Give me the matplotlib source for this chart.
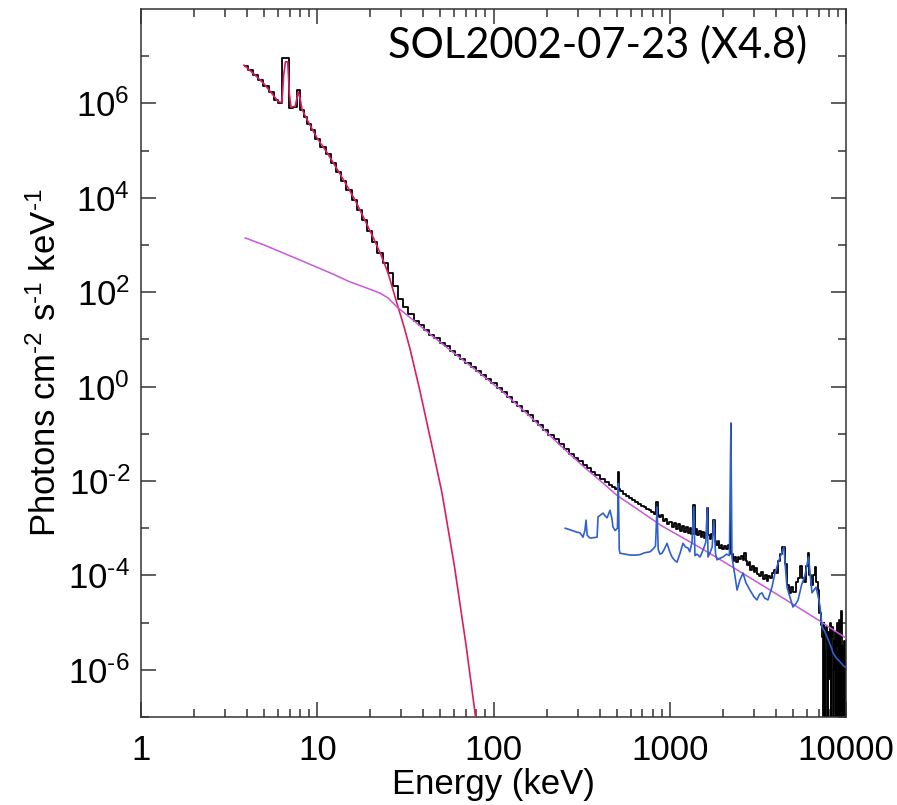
import numpy as np
import matplotlib
matplotlib.use('Agg')
import matplotlib.pyplot as plt
from matplotlib.ticker import FixedLocator, NullFormatter

# --- data (energy in keV, log10 of photon flux) ---
thermal_e = [3.84, 4.5, 5.0, 5.5, 6.0, 6.3, 6.45, 6.6, 6.8, 6.95, 7.1, 7.5, 7.8, 8.0,
             8.2, 9.0, 10.0, 11.4, 13.0, 14.5, 16.4, 18.5, 20.7, 23.0, 25.2, 28.3,
             31.0, 33.6, 38.3, 45.0, 51.0, 60.0, 70.0, 78.5, 85.0]
thermal_log = [6.81, 6.58, 6.41, 6.22, 6.04, 6.02, 6.6, 6.88, 6.88, 6.2, 5.92, 5.94, 6.24, 6.1,
               5.87, 5.57, 5.26, 4.95, 4.60, 4.30, 3.95, 3.55, 3.17, 2.79, 2.41, 1.77,
               1.28, 0.80, -0.10, -1.30, -2.25, -3.80, -5.50, -6.90, -8.0]

nonthermal_e = [3.9, 5.0, 8.0, 12.0, 15.3, 20.0, 22.7, 25.2, 28.3, 35.0, 45.0, 57.0, 80.0,
                109, 160, 240, 330, 420, 500, 700, 900, 1500, 2000, 3000, 5000, 7000, 10000]
nonthermal_log = [3.15, 3.0, 2.68, 2.40, 2.22, 2.06, 1.98, 1.88, 1.69, 1.41, 1.07, 0.77, 0.34,
                  -0.06, -0.62, -1.25, -1.72, -2.05, -2.30, -2.67, -2.95, -3.42, -3.70, -4.10,
                  -4.61, -4.95, -5.33]

# observed spectrum (black histogram)
obs_e = [3.9, 4.17, 4.47, 4.78, 5.11, 5.47, 5.86, 6.15, 6.45, 6.78, 7.12, 7.45, 7.82, 8.2,
         8.6, 9.0, 9.41, 10.07, 10.77, 11.53, 12.33, 13.2, 14.1, 15.1, 16.2, 17.3, 18.5,
         19.8, 21.2, 22.7, 24.3, 26.0, 27.8, 29.7, 31.8, 34.0, 36.4, 39.0, 41.7, 44.6,
         47.7, 51.1, 54.6, 58.5, 62.6, 66.9, 71.6, 76.6, 82.0, 87.7, 93.9, 100.5, 107.5,
         115, 123, 132, 141, 151, 161, 173, 185, 198, 212, 226, 242, 259, 277, 297,
         310, 330, 350, 367, 390, 418, 440, 460, 480, 500, 506, 511, 516, 530, 550, 572,
         595, 620, 645, 670, 700, 725, 750, 775, 800, 830, 847, 860, 880, 905, 930, 955,
         980, 1010, 1040, 1070, 1100, 1130, 1160, 1190, 1220, 1250, 1280, 1310, 1340,
         1369, 1395, 1420, 1450, 1480, 1510, 1540, 1570, 1600, 1634, 1665, 1700, 1740,
         1779, 1810, 1850, 1890, 1930, 1970, 2010, 2060, 2110, 2160, 2200, 2223, 2250,
         2300, 2350, 2400, 2450, 2500, 2560, 2620, 2670, 2720, 2780, 2840, 2900, 2960,
         3030, 3100, 3170, 3250, 3330, 3410, 3500, 3580, 3670, 3760, 3850, 3950, 4050,
         4150, 4280, 4440, 4560, 4680, 4810, 4950, 5100, 5250, 5400, 5550, 5700, 5850,
         5980, 6130, 6280, 6420, 6560, 6700, 6850, 6990, 7130, 7250, 7350, 7420, 7500,
         7580, 7660, 7740, 7820, 7900, 7980, 8060, 8140, 8220, 8300, 8380, 8460, 8540,
         8620, 8700, 8780, 8860, 8940, 9020, 9100, 9180, 9260, 9340, 9420, 9500, 9580,
         9660, 9740, 9820, 9900, 9980]
obs_log = [6.80, 6.71, 6.60, 6.49, 6.37, 6.24, 6.08, 6.00, 6.97, 6.97, 5.90, 5.92, 6.28, 5.86,
           5.72, 5.56, 5.44, 5.25, 5.08, 4.92, 4.74, 4.55, 4.36, 4.16, 3.96, 3.75, 3.53,
           3.30, 3.06, 2.84, 2.62, 2.40, 2.14, 1.85, 1.68, 1.53, 1.40, 1.30, 1.20, 1.10,
           1.02, 0.93, 0.85, 0.76, 0.67, 0.59, 0.50, 0.42, 0.33, 0.25, 0.16, 0.07, -0.02,
           -0.12, -0.22, -0.32, -0.42, -0.52, -0.61, -0.72, -0.82, -0.92, -1.02, -1.12,
           -1.22, -1.32, -1.42, -1.52,
           -1.58, -1.66, -1.72, -1.80, -1.88, -1.96, -2.02, -2.08, -2.12, -2.16, -2.14,
           -1.80, -2.18, -2.22, -2.27, -2.31, -2.35, -2.40, -2.44, -2.48, -2.53, -2.55,
           -2.60, -2.62, -2.66, -2.70, -2.45, -2.73, -2.76, -2.72, -2.84, -2.80, -2.92,
           -2.86, -2.98, -2.90, -3.02, -2.92, -3.05, -2.95, -3.08, -2.98, -3.10, -3.00,
           -3.12, -2.51, -3.12, -3.02, -3.15, -3.05, -3.18, -3.08, -3.20, -3.10, -2.57,
           -3.15, -3.22, -3.12, -2.83, -3.28, -3.35, -3.28, -3.42, -3.36, -3.45, -3.38,
           -3.44, -3.36, -3.42, -0.80, -3.55, -3.70, -3.62, -3.72, -3.60, -3.66, -3.58,
           -3.68, -3.53, -3.70, -3.78, -3.72, -3.88, -3.80, -3.93, -3.85, -3.98, -4.02,
           -3.92, -4.08, -4.00, -4.12, -4.02, -4.05, -3.95, -3.88, -3.95, -3.70, -3.55,
           -3.40, -3.75, -4.20, -4.38, -4.25, -4.35, -4.15, -4.05, -3.80, -4.05, -4.15,
           -3.80, -3.53, -4.00, -4.20, -4.00, -3.82, -4.15, -4.30, -4.80, -5.05, -5.3,
           -7.5, -5.0, -5.6, -7.5, -5.1, -5.4, -7.5, -5.2, -6.2, -5.0, -7.5, -5.3, -5.1,
           -7.5, -5.4, -6.0, -5.2, -7.5, -5.5, -5.0, -7.5, -5.6, -4.95, -7.5, -5.3, -4.75,
           -7.5, -5.5, -5.8, -7.5, -5.4, -7.5, -5.6]

# gamma-ray spectrometer (blue)
gamma_e = [255, 275, 295, 310, 322, 330, 335, 340, 353, 370, 387, 392, 405, 418, 430, 441,
           458, 470, 476, 490, 505, 511, 517, 522, 560, 595, 640, 678, 720, 773, 800, 830,
           847, 860, 880, 904, 930, 965, 1000, 1030, 1065, 1099, 1140, 1189, 1230, 1270,
           1300, 1337, 1369, 1390, 1430, 1486, 1550, 1600, 1634, 1649, 1700, 1740, 1779,
           1820, 1854, 1920, 2005, 2100, 2180, 2223, 2254, 2330, 2410, 2500, 2606, 2700,
           2851, 3000, 3125, 3230, 3337, 3450, 3607, 3800, 3954, 4150, 4440, 4624, 4800,
           5000, 5200, 5346, 5600, 5850, 6130, 6412, 6761, 7000, 7129, 7311, 7600, 7900,
           8200, 8440, 8800, 9200, 9600, 9870]
gamma_log = [-3.00, -3.04, -3.08, -3.10, -3.19, -3.05, -2.83, -3.15, -3.21, -3.20, -3.19,
             -2.76, -2.72, -2.68, -2.74, -2.78, -2.62, -2.80, -2.97, -3.05, -3.0, -2.05,
             -3.45, -3.53, -3.55, -3.57, -3.57, -3.56, -3.52, -3.50, -3.45, -3.38, -2.55,
             -3.45, -3.55, -3.53, -3.45, -3.32, -3.50, -3.61, -3.68, -3.72, -3.55, -3.32,
             -3.40, -3.42, -3.50, -3.30, -2.55, -3.58, -3.55, -3.61, -3.45, -3.30, -2.57,
             -3.61, -3.50, -3.40, -2.83, -3.55, -3.67, -3.64, -3.61, -3.55, -3.58, -0.77,
             -3.61, -3.95, -4.31, -4.10, -3.95, -4.15, -4.31, -4.45, -4.52, -4.40, -4.37,
             -4.48, -4.52, -4.25, -3.95, -3.70, -3.40, -4.25, -4.45, -4.67, -4.60, -4.52,
             -4.20, -4.00, -3.61, -4.37, -4.25, -4.50, -4.67, -5.09, -5.20, -5.35, -5.50,
             -5.64, -5.75, -5.82, -5.90, -5.94]

y_major = [-6, -4, -2, 0, 2, 4, 6]
y_minor = [-7, -5, -3, -1, 1, 3, 5, 7]
x_major = [1, 10, 100, 1000, 10000]
x_labels = ['1', '10', '100', '1000', '10000']
title_text = 'SOL2002-07-23 (X4.8)'

plt.rcParams['font.family'] = ['Liberation Sans', 'DejaVu Sans']
plt.rcParams['mathtext.default'] = 'regular'

fig = plt.figure(figsize=(8.97, 8.05), dpi=100)
ax = fig.add_axes([141 / 897, 1 - 717 / 805, 705 / 897, 708 / 805])

ax.plot(obs_e, 10 ** np.array(obs_log), color='black', lw=1.3, drawstyle='steps-mid', zorder=2)
ax.plot(thermal_e, 10 ** np.array(thermal_log), color='#dc1e5a', lw=1.2, zorder=3)
ax.plot(nonthermal_e, 10 ** np.array(nonthermal_log), color='#c858dc', lw=1.1, zorder=3)
ax.plot(gamma_e, 10 ** np.array(gamma_log), color='#2f5fd0', lw=1.2, zorder=4)

ax.set_xscale('log')
ax.set_yscale('log')
ax.set_xlim(1, 10000)
ax.set_ylim(1e-7, 1e8)

ax.xaxis.set_major_locator(FixedLocator(x_major))
ax.set_xticklabels(x_labels)
ax.xaxis.set_minor_locator(FixedLocator([m * d for d in [1, 10, 100, 1000] for m in range(2, 10)]))
ax.xaxis.set_minor_formatter(NullFormatter())

ax.yaxis.set_major_locator(FixedLocator([10.0 ** p for p in y_major]))
ax.set_yticklabels(['$10^{%s}$' % str(p).replace('-', '\u2010') for p in y_major])
ax.yaxis.set_minor_locator(FixedLocator([10.0 ** p for p in y_minor]))
ax.yaxis.set_minor_formatter(NullFormatter())

ax.tick_params(which='both', direction='in', top=True, right=True, width=1.1, color='#333333')
ax.tick_params(which='major', length=11, labelsize=25)
ax.tick_params(which='minor', length=6)
ax.tick_params(axis='x', which='major', pad=12)
ax.tick_params(axis='y', which='major', pad=8)
for s in ax.spines.values():
    s.set_linewidth(1.1)
    s.set_color('#333333')

ax.set_xlabel('Energy (keV)', fontsize=25, labelpad=1)
ax.set_ylabel('Photons cm$^{\u20102}$ s$^{\u20101}$ keV$^{\u20101}$', fontsize=25, labelpad=4)

ax.text(0.35, 0.949, title_text, transform=ax.transAxes, ha='left', va='center',
        fontsize=30, family=['Lato', 'DejaVu Sans'])

fig.savefig('out.png', dpi=100)
